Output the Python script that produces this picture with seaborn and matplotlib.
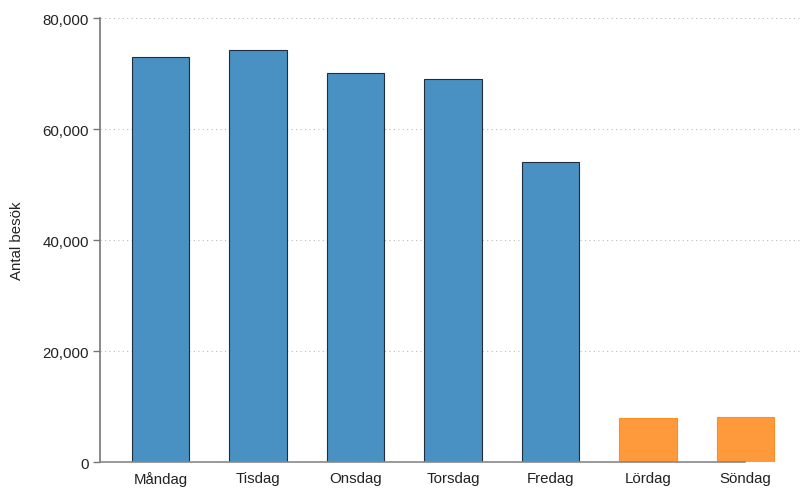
import matplotlib
matplotlib.use("Agg")
import matplotlib.pyplot as plt
from matplotlib import font_manager as fm
import seaborn as sns
import pandas as pd
from matplotlib.ticker import FuncFormatter

days = ["Måndag", "Tisdag", "Onsdag", "Torsdag", "Fredag", "Lördag", "Söndag"]
visits = [73000, 74200, 70100, 69000, 54000, 7900, 8100]
weekend = [False, False, False, False, False, True, True]
yticks = [0, 20000, 40000, 60000, 80000]

blue = "#4a91c3"
orange = "#ff9a3c"
blue_edge = "#1f2d3d"
orange_edge = "#ff8c20"

df = pd.DataFrame({"day": days, "visits": visits})
colors = [orange if w else blue for w in weekend]

sns.set_style("white")

# pick the regular (non-narrow) Liberation Sans explicitly
fam = "Liberation Sans"
for f in fm.findSystemFonts():
    if f.endswith("LiberationSans-Regular.ttf"):
        fm.fontManager.addfont(f)
        fam = fm.FontProperties(fname=f).get_name()
        break
plt.rcParams["font.family"] = [fam, "DejaVu Sans"]

fig = plt.figure(figsize=(8, 4.89), dpi=100)
ax = fig.add_axes([0.125, 0.053, 0.875, 0.908])

sns.barplot(data=df, x="day", y="visits", hue="day", palette=colors,
            legend=False, width=0.59, ax=ax, saturation=1)

for p, w in zip(ax.patches, weekend):
    p.set_edgecolor(orange_edge if w else blue_edge)
    p.set_linewidth(0.8)
    p.set_zorder(3)

ax.set_ylim(0, 80000)
ax.set_xlim(-0.62, 6.56)
ax.set_yticks(yticks)
ax.yaxis.set_major_formatter(FuncFormatter(lambda v, p: f"{int(v):,}"))
ax.grid(axis="y", linestyle=(0, (1, 3)), color="#bbbbbb", linewidth=0.8)
ax.set_axisbelow(True)

for s in ["top", "right"]:
    ax.spines[s].set_visible(False)
ax.spines["left"].set_color("#777777")
ax.spines["left"].set_linewidth(1.2)
ax.spines["bottom"].set_color("#888888")
ax.spines["bottom"].set_linewidth(1.2)
ax.spines["bottom"].set_bounds(-0.62, 6)
ax.spines["bottom"].set_zorder(4)

fs = 10.8
ax.tick_params(axis="y", left=True, length=5, width=1, color="#777777",
               labelsize=fs, labelcolor="#222222", pad=3)
ax.tick_params(axis="x", bottom=False, labelsize=fs, labelcolor="#222222", pad=3)

ax.set_xlabel("")
ax.set_ylabel("Antal besök", fontsize=fs, color="#222222")
ax.yaxis.set_label_coords(-0.108, 0.5)

fig.savefig("out.png", dpi=100)
